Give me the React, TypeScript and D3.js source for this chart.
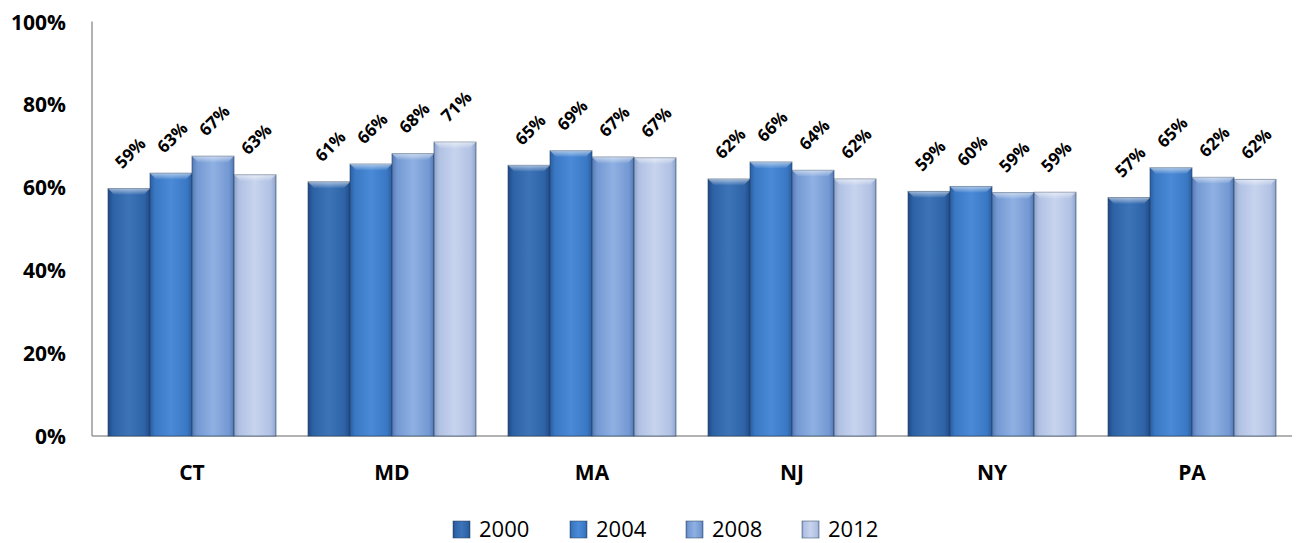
import React from "react";
import * as d3 from "d3";

const states = ["CT", "MD", "MA", "NJ", "NY", "PA"];
const years = ["2000", "2004", "2008", "2012"];
const v2000 = [0.597, 0.613, 0.653, 0.620, 0.590, 0.575];
const v2004 = [0.634, 0.656, 0.688, 0.661, 0.602, 0.647];
const v2008 = [0.675, 0.681, 0.673, 0.641, 0.587, 0.624];
const v2012 = [0.630, 0.709, 0.671, 0.620, 0.588, 0.619];
const labels2000 = ["59%", "61%", "65%", "62%", "59%", "57%"];
const labels2004 = ["63%", "66%", "69%", "66%", "60%", "65%"];
const labels2008 = ["67%", "68%", "67%", "64%", "59%", "62%"];
const labels2012 = ["63%", "71%", "67%", "62%", "59%", "62%"];
const yTicks = [0, 0.2, 0.4, 0.6, 0.8, 1.0];

const colors = [
  { light: "#3d74b8", mid: "#2d62a6", dark: "#1f4a85" },
  { light: "#4a8ad6", mid: "#3a78c4", dark: "#2a5ea3" },
  { light: "#8fb0e2", mid: "#7399d3", dark: "#5478b5" },
  { light: "#c8d4ee", mid: "#b0c1e3", dark: "#8ea2c9" },
];

export default function App() {
  const W = 1299, H = 543;
  const x0 = 92, x1 = 1292, yTop = 21.5, yBot = 436;
  const series = [v2000, v2004, v2008, v2012];
  const lbls = [labels2000, labels2004, labels2008, labels2012];
  const x = d3.scaleBand().domain(states).range([x0, x1]).paddingInner(0.16).paddingOuter(0.08);
  const xi = d3.scaleBand().domain(years).range([0, x.bandwidth()]);
  const y = d3.scaleLinear().domain([0, 1]).range([yBot, yTop]);
  const font = "'Open Sans', Lato, sans-serif";

  const legendX = [453, 570, 686, 802];

  return (
    <svg width={W} height={H} style={{ position: "absolute", left: 0, top: 0, background: "#fff" }}>
      <defs>
        {colors.map((c, i) => (
          <linearGradient key={i} id={`g${i}`} x1="0" x2="1" y1="0" y2="0">
            <stop offset="0" stopColor={c.dark} />
            <stop offset="0.12" stopColor={c.mid} />
            <stop offset="0.5" stopColor={c.light} />
            <stop offset="0.88" stopColor={c.mid} />
            <stop offset="1" stopColor={c.dark} />
          </linearGradient>
        ))}
        {colors.map((c, i) => (
          <linearGradient key={"v" + i} id={`t${i}`} x1="0" x2="0" y1="0" y2="1">
            <stop offset="0" stopColor="#ffffff" stopOpacity="0.55" />
            <stop offset="1" stopColor="#ffffff" stopOpacity="0.05" />
          </linearGradient>
        ))}
      </defs>
      <line x1={x0} x2={x0} y1={yTop} y2={yBot} stroke="#999" strokeWidth={1.5} />
      <line x1={x0} x2={x1} y1={yBot} y2={yBot} stroke="#999" strokeWidth={1.5} />
      {yTicks.map((t) => (
        <text key={t} x={66} y={y(t)} textAnchor="end" dominantBaseline="central" fontFamily={font} fontWeight="bold" fontSize={21} fill="#000">
          {`${Math.round(t * 100)}%`}
        </text>
      ))}
      {states.map((s, si) => (
        <g key={s}>
          {series.map((vals, k) => {
            const bx = (x(s) as number) + (xi(years[k]) as number);
            const bw = xi.bandwidth();
            const by = y(vals[si]);
            const bh = yBot - by;
            return (
              <g key={k}>
                <rect x={bx} y={by} width={bw} height={bh} fill={`url(#g${k})`} stroke="#27405f" strokeOpacity={0.6} strokeWidth={1} />
                <polygon
                  points={`${bx},${by} ${bx + bw},${by} ${bx + bw - 6},${by + 6} ${bx + 6},${by + 6}`}
                  fill={`url(#t${k})`}
                />
                <text
                  transform={`translate(${bx + bw / 2 + 1},${by - 36}) rotate(-45)`}
                  textAnchor="middle"
                  dominantBaseline="central"
                  fontFamily={font}
                  fontWeight="bold"
                  fontSize={17}
                  fill="#000"
                >
                  {lbls[k][si]}
                </text>
              </g>
            );
          })}
          <text x={(x(s) as number) + x.bandwidth() / 2} y={472} textAnchor="middle" dominantBaseline="central" fontFamily={font} fontWeight="bold" fontSize={21} fill="#000">
            {s}
          </text>
        </g>
      ))}
      {years.map((yr, i) => (
        <g key={yr}>
          <rect x={legendX[i]} y={521} width={17} height={17} fill={`url(#g${i})`} stroke="#27405f" strokeOpacity={0.5} />
          <text x={legendX[i] + 26} y={528} dominantBaseline="central" fontFamily={font} fontSize={22} fill="#000">
            {yr}
          </text>
        </g>
      ))}
    </svg>
  );
}
